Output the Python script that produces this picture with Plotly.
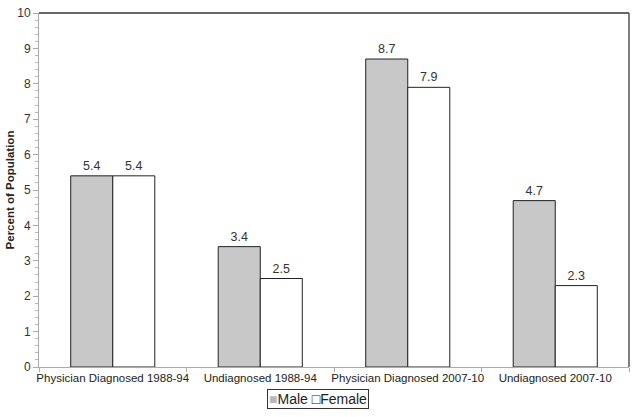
import plotly.graph_objects as go

categories = ["Physician Diagnosed 1988-94", "Undiagnosed 1988-94",
              "Physician Diagnosed 2007-10", "Undiagnosed 2007-10"]
male = [5.4, 3.4, 8.7, 4.7]
female = [5.4, 2.5, 7.9, 2.3]

font = "Liberation Sans, Arial, sans-serif"

fig = go.Figure()
fig.add_trace(go.Bar(x=categories, y=male, name="Male",
                     marker=dict(color="#c8c8c8", line=dict(color="#222", width=1)),
                     text=[f"{v:.1f}" for v in male], textposition="outside",
                     textfont=dict(size=12.5, color="#333"), cliponaxis=False))
fig.add_trace(go.Bar(x=categories, y=female, name="Female",
                     marker=dict(color="#ffffff", line=dict(color="#222", width=1)),
                     text=[f"{v:.1f}" for v in female], textposition="outside",
                     textfont=dict(size=12.5, color="#333"), cliponaxis=False))

fig.update_layout(
    width=639, height=417,
    margin=dict(l=39, r=10, t=13, b=50),
    paper_bgcolor="white", plot_bgcolor="white",
    barmode="group", bargap=0.43, bargroupgap=0,
    font=dict(family=font, size=12, color="#333"),
    showlegend=False,
    xaxis=dict(showline=True, linecolor="#aaa", linewidth=1, ticks="outside",
               tickson="boundaries", ticklen=4, tickcolor="#aaa", tickangle=0,
               automargin=False,
               tickfont=dict(size=11.5, color="#222"), showgrid=False),
    yaxis=dict(range=[0, 10], dtick=1, showline=True, linecolor="#aaa", linewidth=1,
               ticks="outside", ticklen=5, tickcolor="#aaa", showgrid=False,
               automargin=False,
               tickfont=dict(size=12, color="#333"),
               minor=dict(dtick=0.2, ticks="outside", ticklen=3, tickcolor="#bbb"),
               title=dict(text="<b>Percent of Population</b>", font=dict(size=11.5, color="#222"),
                          standoff=0),
               zeroline=False),
    shapes=[
        dict(type="line", xref="paper", yref="paper", x0=0, x1=1, y0=1, y1=1,
             line=dict(color="#333", width=1.5)),
        dict(type="line", xref="paper", yref="paper", x0=1, x1=1, y0=0, y1=1,
             line=dict(color="#555", width=1.5)),
    ],
    annotations=[
        dict(xref="paper", yref="paper", x=(318 - 39) / 590, y=-(399 - 367) / 354,
             xanchor="center", yanchor="middle", showarrow=False,
             text="<span style='color:#b8b8b8'>■</span>Male<span style='color:#222'> □</span>Female",
             font=dict(size=14, color="#222"),
             bordercolor="#333", borderwidth=1, borderpad=1, bgcolor="white"),
    ],
)

fig.write_html("out.html", config={"displayModeBar": False},
               post_script="document.body.style.margin='0';document.body.style.overflow='hidden';")
